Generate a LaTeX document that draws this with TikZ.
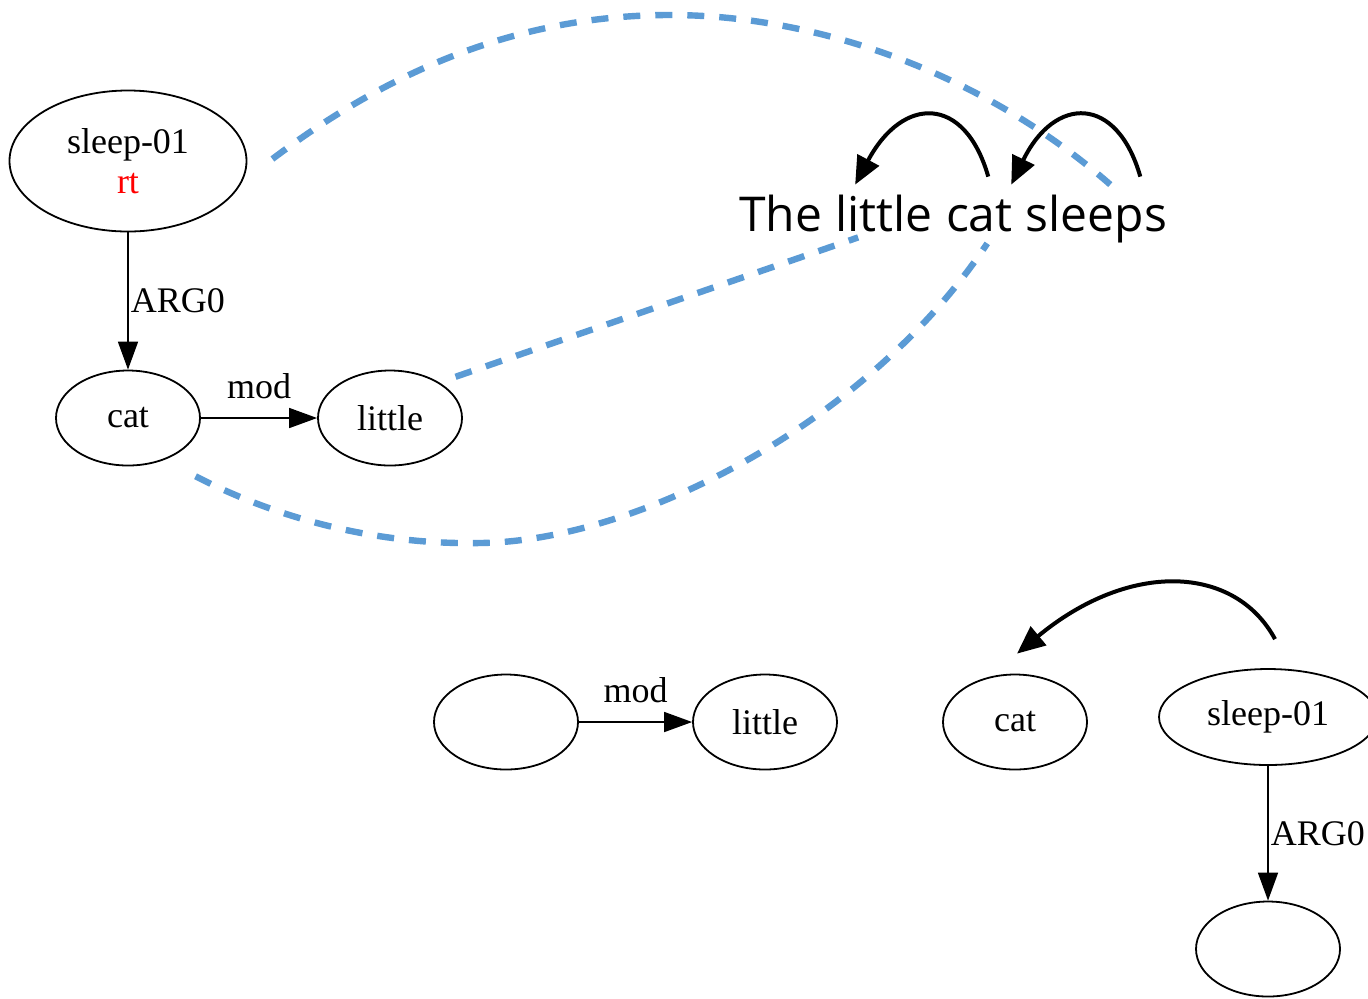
\documentclass[tikz,border=0pt]{standalone}
\usepackage{fontspec}
\setmainfont{Liberation Serif}
\newfontfamily\sentfont{Open Sans}
\usetikzlibrary{arrows.meta,shapes.geometric}
\definecolor{alignblue}{RGB}{91,155,213}

\begin{document}
\begin{tikzpicture}[x=0.5pt,y=-0.5pt,
    amr/.style={ellipse, draw, line width=0.9pt, inner sep=0pt, minimum width=72pt, minimum height=47.5pt, font=\fontsize{18}{20}\selectfont},
    rel/.style={draw, line width=0.8pt, -{Triangle[length=14pt,width=10pt]}},
    lbl/.style={inner sep=0pt, font=\fontsize{18}{20}\selectfont},
    word/.style={inner sep=0pt, anchor=base west, text height=18pt, text depth=6pt, font=\sentfont\fontsize{24}{28}\selectfont},
    wordlink/.style={alignblue, line width=3.2pt, dash pattern=on 8.5pt off 7.5pt},
    dep/.style={line width=2pt, -{Triangle[length=14pt,width=12pt]}}]
  \useasboundingbox (0,0) rectangle (1368,998);

  % graph with alignment
  \node[amr, align=center, minimum width=118.5pt, minimum height=70.5pt] (slp) at (128,161) {sleep-01\\\textcolor{red}{rt}};
  \node[amr] (cat) at (128,418) {cat};
  \node[amr] (lit) at (390,418) {little};

  \draw[rel] (slp) -- node[lbl, right=1pt] {ARG0} (cat);
  \draw[rel] (cat) -- node[lbl, above=9pt] {mod} (lit);

  % the sentence
  \node[word] (w1) at (739,231) {The};
  \node[word] (w2) at ([xshift=6.2pt]w1.base east) {little};
  \node[word] (w3) at ([xshift=6.2pt]w2.base east) {cat};
  \node[word] (w4) at ([xshift=6.2pt]w3.base east) {sleeps};

  \draw[wordlink] ([shift={(12.5pt,1pt)}]slp.east) .. controls (390,70) and (520,15) .. (670,15)
      .. controls (820,15) and (985,75) .. ([shift={(7pt,5pt)}]w4.north);
  \draw[wordlink] ([shift={(7pt,3.5pt)}]lit.north east) -- ([shift={(-13pt,3pt)}]w2.south);
  \draw[wordlink] ([shift={(8pt,-12pt)}]cat.south east) .. controls (280,520) and (380,545) .. (480,543)
      .. controls (640,541) and (870,420) .. ([xshift=4pt]w3.south);

  \draw[dep] ([shift={(4.5pt,9pt)}]w3.north) .. controls (965,95) and (903,95) .. ([shift={(-14.5pt,5pt)}]w2.north);
  \draw[dep] ([shift={(22pt,9pt)}]w4.north) .. controls (1117,95) and (1055,95) .. ([shift={(16pt,5pt)}]w3.north);

  % fragments
  \node[amr] (e1) at (506,722) {};
  \node[amr] (lit2) at (765,722) {little};
  \node[amr] (cat2) at (1015,722) {cat};
  \node[amr, minimum width=109pt, minimum height=48pt] (slp2) at (1268,717) {sleep-01};
  \node[amr] (e2) at (1268,949) {};

  \draw[rel] (e1) -- node[lbl, above=9pt] {mod} (lit2);
  \draw[rel] (slp2) -- node[lbl, right=1pt] {ARG0} (e2);
  \draw[dep] ([shift={(3.5pt,14.5pt)}]slp2.north) .. controls (1235,565) and (1130,560) .. ([shift={(1pt,10pt)}]cat2.north);
\end{tikzpicture}
\end{document}
